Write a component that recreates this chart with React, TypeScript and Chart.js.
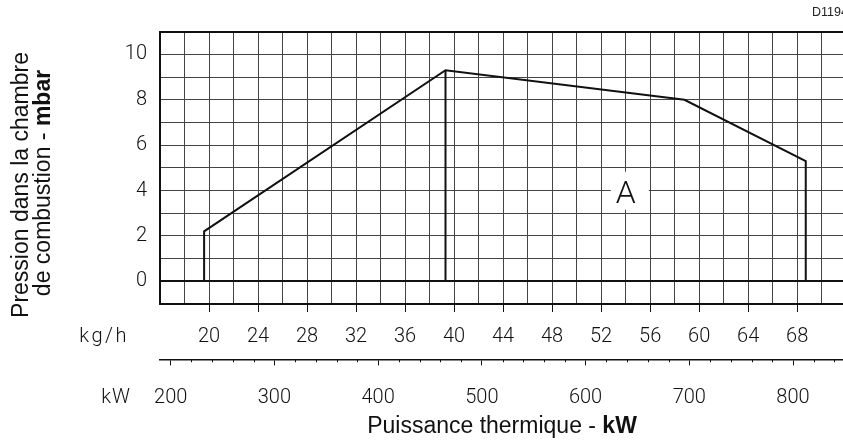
import React, { useEffect, useRef } from 'react';
import { Chart, registerables } from 'chart.js';

Chart.register(...registerables);

// ---- data ----
const flowKgH = [19.6, 19.6, 39.3, 58.8, 68.7, 68.7];
const pressureMbar = [0, 2.2, 9.3, 8.0, 5.3, 0];
const peakFlowKgH = [39.3, 39.3];
const peakPressureMbar = [0, 9.3];

const pressureTicks = [0, 2, 4, 6, 8, 10];
const flowTicks = [20, 24, 28, 32, 36, 40, 44, 48, 52, 56, 60, 64, 68];
const powerTicks = [200, 300, 400, 500, 600, 700, 800];

const flowRange = [16, 71.74];
const powerRange = [189.7, 848.2];
const pressureRange = [-1, 11];

const areaLabelText = 'A';
const areaLabelFlow = 54.0;
const areaLabelPressure = 4;

const yTitleLine1 = 'Pression dans la chambre';
const yTitleLine2 = 'de combustion - ';
const yTitleUnit = 'mbar';
const xTitle = 'Puissance thermique - ';
const xTitleUnit = 'kW';
const flowUnit = 'kg/h';
const powerUnit = 'kW';
const drawingRef = 'D1194';

// ---- styles ----
const TICK_FAMILY = "Roboto, 'DejaVu Sans', sans-serif";
const TITLE_FAMILY = "'Liberation Sans', Arial, sans-serif";
const GRID = '#444';
const INK = '#111';

type Run = { t: string; bold?: boolean };

function drawRuns(ctx: CanvasRenderingContext2D, runs: Run[], x: number, y: number, size: number) {
  const fonts = runs.map(r => `${r.bold ? 'bold' : 'normal'} ${size}px ${TITLE_FAMILY}`);
  const widths = runs.map((r, i) => {
    ctx.font = fonts[i];
    return ctx.measureText(r.t).width;
  });
  const total = widths.reduce((a, b) => a + b, 0);
  let cx = x - total / 2;
  ctx.textAlign = 'left';
  ctx.textBaseline = 'alphabetic';
  runs.forEach((r, i) => {
    ctx.font = fonts[i];
    ctx.fillText(r.t, cx, y);
    cx += widths[i];
  });
}

const overlayPlugin = {
  id: 'overlay',
  afterDatasetsDraw(chart: any) {
    const ctx: CanvasRenderingContext2D = chart.ctx;
    const xs = chart.scales.x;
    const ys = chart.scales.y;
    const px = xs.getPixelForValue(areaLabelFlow);
    const py = ys.getPixelForValue(areaLabelPressure);
    ctx.save();
    ctx.fillStyle = '#fff';
    ctx.fillRect(px - 14.8, py - 18.8, 38, 38);
    ctx.fillStyle = INK;
    ctx.font = `300 32px ${TICK_FAMILY}`;
    ctx.textAlign = 'center';
    ctx.textBaseline = 'alphabetic';
    ctx.fillText(areaLabelText, px, py + 12);
    ctx.restore();
  },
  afterDraw(chart: any) {
    const ctx: CanvasRenderingContext2D = chart.ctx;
    const xs = chart.scales.x;
    const kw = chart.scales.kw;
    ctx.save();
    ctx.fillStyle = INK;
    ctx.strokeStyle = INK;

    // minor ticks of the kW axis
    ctx.lineWidth = 1;
    kw.ticks.forEach((t: any) => {
      if (t.value % 100 !== 0) {
        const p = Math.round(kw.getPixelForValue(t.value)) + 0.5;
        ctx.beginPath();
        ctx.moveTo(p, kw.top);
        ctx.lineTo(p, kw.top + 3);
        ctx.stroke();
      }
    });

    // unit labels
    ctx.font = `300 20px ${TICK_FAMILY}`;
    ctx.textAlign = 'right';
    ctx.textBaseline = 'middle';
    (ctx as any).letterSpacing = '2.5px';
    ctx.fillText(flowUnit, 129, xs.top + 32.5);
    (ctx as any).letterSpacing = '1px';
    ctx.fillText(powerUnit, 131, kw.top + 38.2);
    (ctx as any).letterSpacing = '0px';

    // drawing reference
    ctx.font = `12.5px ${TITLE_FAMILY}`;
    ctx.textAlign = 'left';
    ctx.fillStyle = '#222';
    ctx.fillText(drawingRef, 812, 12.5);

    // axis titles
    ctx.fillStyle = INK;
    drawRuns(ctx, [{ t: xTitle }, { t: xTitleUnit, bold: true }], 502, 433, 23);

    ctx.save();
    ctx.translate(28, 185);
    ctx.rotate(-Math.PI / 2);
    drawRuns(ctx, [{ t: yTitleLine1 }], 0, 0, 23);
    ctx.restore();

    ctx.save();
    ctx.translate(50, 183);
    ctx.rotate(-Math.PI / 2);
    drawRuns(ctx, [{ t: yTitleLine2 }, { t: yTitleUnit, bold: true }], 0, 0, 23);
    ctx.restore();

    ctx.restore();
  },
};

const noSidePadding = (h: number) => (s: any) => {
  s.height = h;
  s.paddingLeft = 0;
  s.paddingRight = 0;
};

export default function App() {
  const ref = useRef<HTMLCanvasElement>(null);

  useEffect(() => {
    const tickFont = { family: TICK_FAMILY, size: 20, weight: '300' as any };
    const chart = new Chart(ref.current as HTMLCanvasElement, {
      type: 'scatter',
      data: {
        datasets: [
          {
            data: flowKgH.map((f, i) => ({ x: f, y: pressureMbar[i] })),
            showLine: true,
            borderColor: INK,
            borderWidth: 2,
            pointRadius: 0,
            borderJoinStyle: 'miter',
            xAxisID: 'x',
            yAxisID: 'y',
          },
          {
            data: peakFlowKgH.map((f, i) => ({ x: f, y: peakPressureMbar[i] })),
            showLine: true,
            borderColor: INK,
            borderWidth: 2,
            pointRadius: 0,
            xAxisID: 'x',
            yAxisID: 'y',
          },
        ],
      },
      options: {
        animation: false,
        responsive: true,
        maintainAspectRatio: false,
        events: [],
        layout: { padding: { top: 31.7, bottom: 21.7, left: 0, right: 0 } },
        plugins: { legend: { display: false }, tooltip: { enabled: false } },
        scales: {
          x: {
            type: 'linear',
            position: 'bottom',
            weight: 0,
            min: flowRange[0],
            max: flowRange[1],
            afterFit: noSidePadding(55.3),
            ticks: {
              stepSize: 2,
              includeBounds: false,
              autoSkip: false,
              maxRotation: 0,
              padding: 12.5,
              color: INK,
              font: tickFont,
              callback: (v: any) => (flowTicks.includes(Number(v)) ? String(v) : ''),
            },
            grid: {
              color: GRID,
              lineWidth: 1,
              drawTicks: true,
              tickLength: 8,
              tickColor: (c: any) => (flowTicks.includes(c.tick?.value) ? INK : 'rgba(0,0,0,0)'),
            },
            border: { display: true, color: INK, width: 2 },
          },
          kw: {
            type: 'linear',
            position: 'bottom',
            weight: 1,
            min: powerRange[0],
            max: powerRange[1],
            afterFit: noSidePadding(60),
            ticks: {
              stepSize: 20,
              includeBounds: false,
              autoSkip: false,
              maxRotation: 0,
              padding: 20.2,
              color: INK,
              font: tickFont,
              callback: (v: any) => (powerTicks.includes(Number(v)) ? String(v) : ''),
            },
            grid: {
              drawOnChartArea: false,
              drawTicks: true,
              tickLength: 6,
              lineWidth: 1,
              tickColor: (c: any) => (powerTicks.includes(c.tick?.value) ? INK : 'rgba(0,0,0,0)'),
            },
            border: { display: true, color: INK, width: 1.5 },
          },
          y: {
            type: 'linear',
            position: 'left',
            min: pressureRange[0],
            max: pressureRange[1],
            afterFit: (s: any) => { s.width = 160; },
            ticks: {
              stepSize: 1,
              autoSkip: false,
              padding: 13,
              color: INK,
              font: tickFont,
              callback: (v: any) => (pressureTicks.includes(Number(v)) ? String(v) : ''),
            },
            grid: {
              drawTicks: false,
              color: (c: any) => ([0, -1, 11].includes(c.tick?.value) ? INK : GRID),
              lineWidth: (c: any) => ([0, -1, 11].includes(c.tick?.value) ? 2 : 1),
            },
            border: { display: true, color: INK, width: 2 },
          },
        },
      },
      plugins: [overlayPlugin],
    } as any);
    return () => chart.destroy();
  }, []);

  return (
    <div style={{ position: 'absolute', left: 0, top: 0, width: 843, height: 441, background: '#fff' }}>
      <canvas ref={ref} />
    </div>
  );
}
